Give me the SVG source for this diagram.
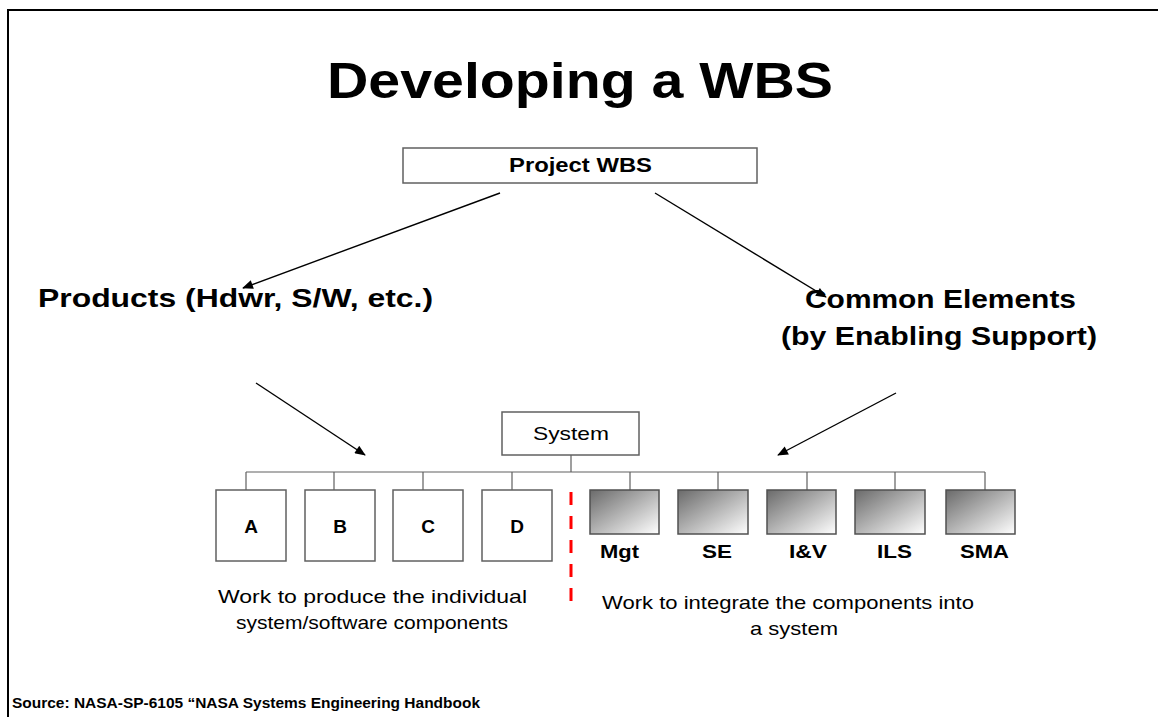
<svg xmlns="http://www.w3.org/2000/svg" width="1158" height="717" viewBox="0 0 1158 717">
<defs>
<style>
.t{font-family:"Liberation Sans",Arial,sans-serif;fill:#000}
.b{font-weight:bold}
.box{fill:#fff;stroke:#606060;stroke-width:1.5}
.gbox{fill:url(#g);stroke:#505050;stroke-width:1.5}
.ln{stroke:#606060;stroke-width:1.2;fill:none}
.arr{stroke:#000;stroke-width:1.4;fill:none;marker-end:url(#ah)}
</style>
<linearGradient id="g" x1="0" y1="0" x2="1" y2="1">
<stop offset="0" stop-color="#6a6a6a"/>
<stop offset="1" stop-color="#ffffff"/>
</linearGradient>
<marker id="ah" viewBox="0 0 12 10" refX="11" refY="5" markerWidth="12" markerHeight="9" markerUnits="userSpaceOnUse" orient="auto">
<path d="M0,0 L12,5 L0,10 z" fill="#000"/>
</marker>
</defs>
<rect width="1158" height="717" fill="#fff"/>
<path d="M8,717 V10 H1158" fill="none" stroke="#000" stroke-width="2"/>
<text class="t b" x="327" y="98" font-size="50" textLength="506" lengthAdjust="spacingAndGlyphs">Developing a WBS</text>

<g id="project">
<rect class="box" x="403" y="148" width="354" height="35"/>
<text class="t b" x="509" y="172" font-size="20" textLength="143" lengthAdjust="spacingAndGlyphs">Project WBS</text>
</g>

<g id="products">
<text class="t b" x="38" y="307" font-size="25" textLength="395" lengthAdjust="spacingAndGlyphs">Products (Hdwr, S/W, etc.)</text>
</g>
<g id="common">
<text class="t b" x="805" y="308" font-size="25" textLength="271" lengthAdjust="spacingAndGlyphs">Common Elements</text>
<text class="t b" x="781" y="345" font-size="25" textLength="316" lengthAdjust="spacingAndGlyphs">(by Enabling Support)</text>
</g>

<g id="connectors">
<line class="arr" x1="500" y1="193" x2="243" y2="288"/>
<line class="arr" x1="655" y1="193" x2="826" y2="297"/>
<line class="arr" x1="256" y1="383" x2="365" y2="455"/>
<line class="arr" x1="896" y1="393" x2="778" y2="455"/>
<path class="ln" d="M571,455 V472 M246,472 H985 M246,472 V490 M334,472 V490 M423,472 V490 M512,472 V490 M630,472 V490 M718,472 V490 M807,472 V490 M895,472 V490 M985,472 V490"/>
<line x1="571" y1="492" x2="571" y2="604" stroke="#ff0000" stroke-width="3" stroke-dasharray="13,11"/>
</g>

<g id="system">
<rect class="box" x="502" y="412" width="137" height="43"/>
<text class="t" x="533" y="440" font-size="19" textLength="76" lengthAdjust="spacingAndGlyphs">System</text>
</g>

<g id="nA"><rect class="box" x="216" y="490" width="70" height="71"/><text class="t b" x="251" y="533" font-size="19" text-anchor="middle">A</text></g>
<g id="nB"><rect class="box" x="305" y="490" width="70" height="71"/><text class="t b" x="340" y="533" font-size="19" text-anchor="middle">B</text></g>
<g id="nC"><rect class="box" x="393" y="490" width="70" height="71"/><text class="t b" x="428" y="533" font-size="19" text-anchor="middle">C</text></g>
<g id="nD"><rect class="box" x="482" y="490" width="70" height="71"/><text class="t b" x="517" y="533" font-size="19" text-anchor="middle">D</text></g>

<g id="nMgt"><rect class="gbox" x="590" y="490" width="69" height="44"/><text class="t b" x="600" y="558" font-size="19" textLength="39" lengthAdjust="spacingAndGlyphs">Mgt</text></g>
<g id="nSE"><rect class="gbox" x="678" y="490" width="70" height="44"/><text class="t b" x="702" y="558" font-size="19" textLength="30" lengthAdjust="spacingAndGlyphs">SE</text></g>
<g id="nIV"><rect class="gbox" x="767" y="490" width="69" height="44"/><text class="t b" x="789" y="558" font-size="19" textLength="38" lengthAdjust="spacingAndGlyphs">I&amp;V</text></g>
<g id="nILS"><rect class="gbox" x="855" y="490" width="70" height="44"/><text class="t b" x="877" y="558" font-size="19" textLength="35" lengthAdjust="spacingAndGlyphs">ILS</text></g>
<g id="nSMA"><rect class="gbox" x="946" y="490" width="69" height="44"/><text class="t b" x="960" y="558" font-size="19" textLength="49" lengthAdjust="spacingAndGlyphs">SMA</text></g>

<g id="desc">
<text class="t" x="218" y="603" font-size="19" textLength="309" lengthAdjust="spacingAndGlyphs">Work to produce the individual</text>
<text class="t" x="236" y="629" font-size="19" textLength="272" lengthAdjust="spacingAndGlyphs">system/software components</text>
<text class="t" x="602" y="609" font-size="19" textLength="372" lengthAdjust="spacingAndGlyphs">Work to integrate the components into</text>
<text class="t" x="750" y="635" font-size="19" textLength="88" lengthAdjust="spacingAndGlyphs">a system</text>
</g>

<text class="t b" x="12" y="708" font-size="14" textLength="468" lengthAdjust="spacingAndGlyphs">Source: NASA-SP-6105  “NASA Systems Engineering Handbook</text>
</svg>
